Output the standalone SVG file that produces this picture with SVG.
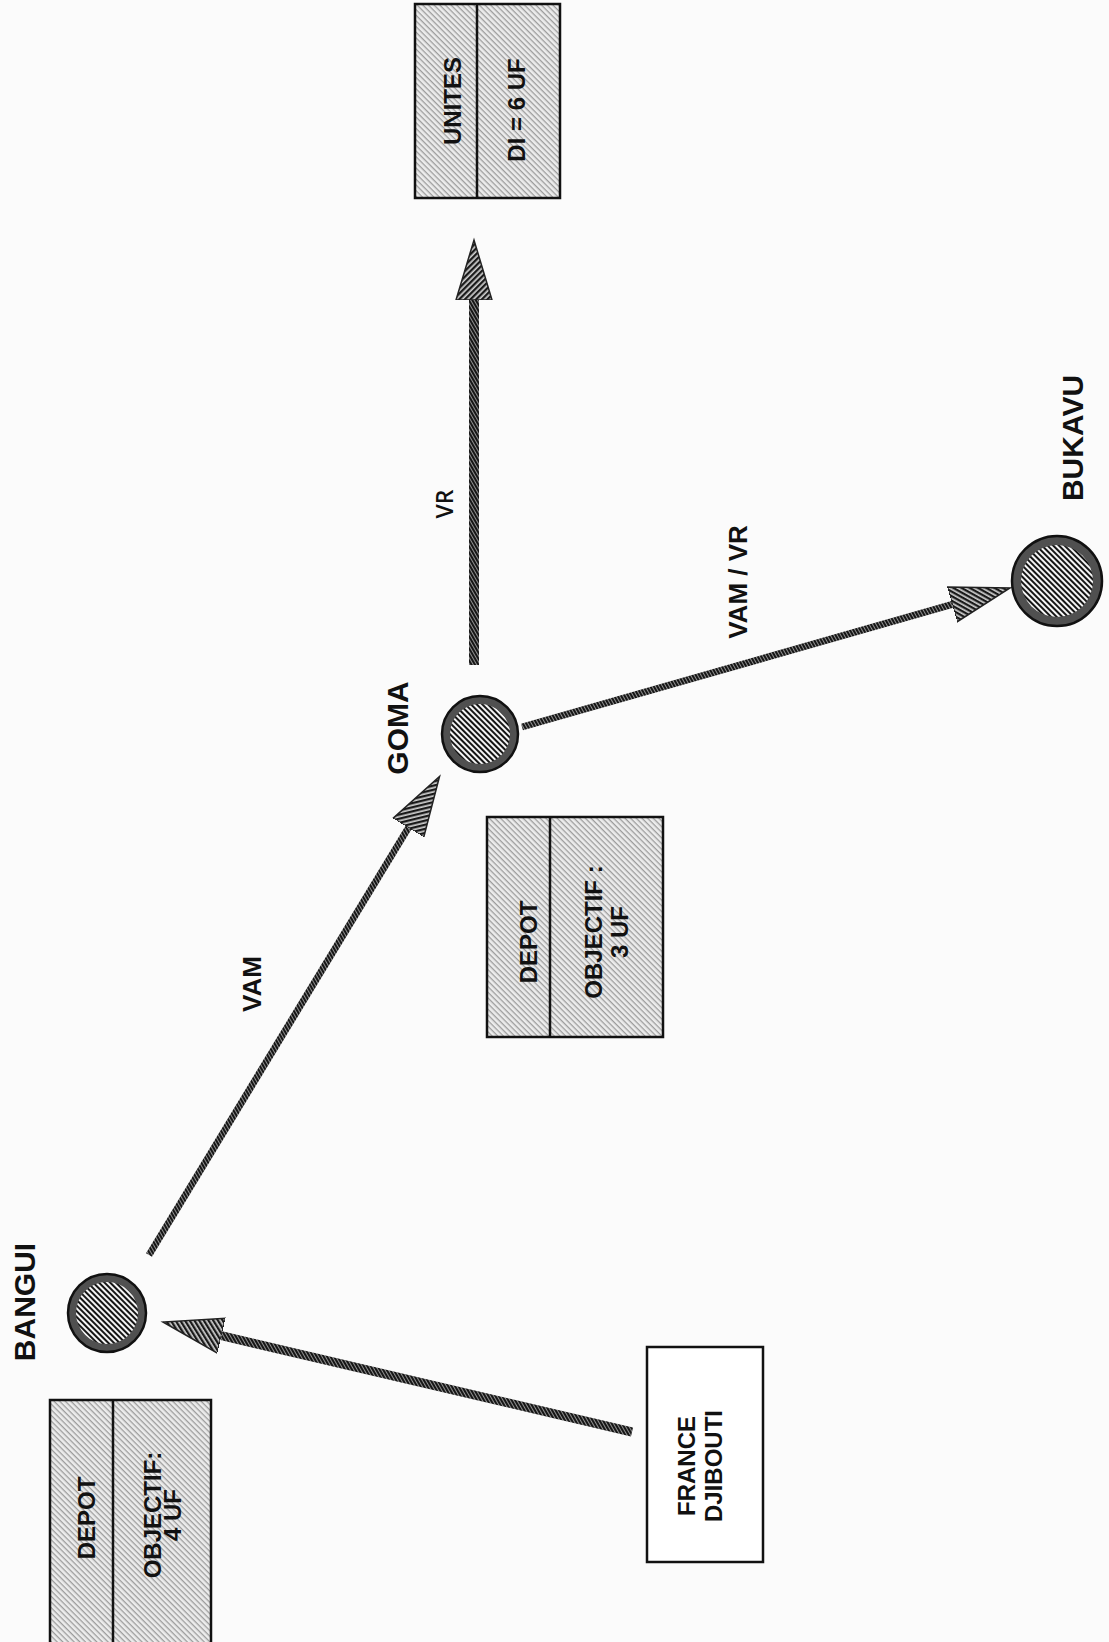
<svg xmlns="http://www.w3.org/2000/svg" width="1109" height="1642" viewBox="0 0 1109 1642">
<defs>
<pattern id="boxHatch" width="4" height="4" patternUnits="userSpaceOnUse" patternTransform="rotate(45)">
<rect width="4" height="4" fill="#ececec"/><rect width="4" height="1.3" fill="#9c9c9c"/>
</pattern>
<pattern id="discHatch" width="4" height="4" patternUnits="userSpaceOnUse" patternTransform="rotate(45)">
<rect width="4" height="4" fill="#f4f4f4"/><rect width="4" height="2" fill="#151515"/>
</pattern>
<pattern id="lineHatch" width="3" height="3" patternUnits="userSpaceOnUse" patternTransform="rotate(60)">
<rect width="3" height="3" fill="#161616"/><rect width="3" height="0.8" fill="#b0b0b0"/>
</pattern>
<pattern id="headHatch" width="4" height="4" patternUnits="userSpaceOnUse" patternTransform="rotate(45)">
<rect width="4" height="4" fill="#cfcfcf"/><rect width="4" height="2.3" fill="#1a1a1a"/>
</pattern>
<marker id="head" markerUnits="userSpaceOnUse" markerWidth="64" markerHeight="42" viewBox="0 -21 64 42" refX="0" refY="0" orient="auto">
<path d="M0,-18 L60,0 L0,18 Z" fill="url(#headHatch)" stroke="#222" stroke-width="1.5"/>
</marker>
<style>
text{font-family:"Liberation Sans",Arial,sans-serif;font-weight:bold;fill:#111;text-anchor:middle}
.city{font-size:30px}
.bx{font-size:24px}
.lbl{font-size:26px}
.lt{font-family:"Open Sans","Liberation Sans",sans-serif;font-size:23px;font-weight:600}
.box{fill:url(#boxHatch);stroke:#111;stroke-width:2.5}
.wbox{fill:#fff;stroke:#111;stroke-width:2.5}
.div{stroke:#111;stroke-width:2.5}
.ring{fill:#505050;stroke:#111;stroke-width:2.5}
.disc{fill:url(#discHatch)}
.conn{fill:none;stroke:url(#lineHatch);stroke-linecap:butt;marker-end:url(#head)}
</style>
</defs>
<rect width="1109" height="1642" fill="#fbfbfb"/>

<g id="connectors">
<path class="conn" d="M632,1432 L221.4,1335.7" stroke-width="9"/>
<path class="conn" d="M149,1255 L408.4,827.7" stroke-width="7"/>
<path class="conn" d="M522,727 L952.3,604.4" stroke-width="7"/>
<path class="conn" d="M474,665 L474,300" stroke-width="10"/>
<text class="lbl" transform="translate(252,984) rotate(-90)" y="9">VAM</text>
<text class="lt" transform="translate(445,504) rotate(-90)" y="8">VR</text>
<text class="lbl" transform="translate(737,582) rotate(-90)" y="9.5">VAM / VR</text>
</g>

<g id="unites">
<rect class="box" x="415" y="4" width="145" height="194"/>
<line class="div" x1="477" y1="4" x2="477" y2="198"/>
<text class="bx" transform="translate(452,101) rotate(-90)" y="8.5">UNITES</text>
<text class="bx" transform="translate(516,110) rotate(-90)" y="8.5">DI = 6 UF</text>
</g>

<g id="goma">
<circle class="ring" cx="480" cy="734" r="38"/>
<circle class="disc" cx="480" cy="734" r="30"/>
<text class="city" transform="translate(397,728) rotate(-90)" y="10.5">GOMA</text>
</g>

<g id="goma-depot">
<rect class="box" x="487" y="817" width="176" height="220"/>
<line class="div" x1="550" y1="817" x2="550" y2="1037"/>
<text class="bx" transform="translate(528,942) rotate(-90)" y="8.5">DEPOT</text>
<text class="bx" transform="translate(606,932) rotate(-90)"><tspan x="0" y="-4.5">OBJECTIF :</tspan><tspan x="0" y="22">3 UF</tspan></text>
</g>

<g id="bukavu">
<circle class="ring" cx="1057" cy="581" r="45"/>
<circle class="disc" cx="1057" cy="581" r="36"/>
<text class="city" transform="translate(1072,438) rotate(-90)" y="10.5">BUKAVU</text>
</g>

<g id="bangui">
<circle class="ring" cx="107" cy="1313" r="39"/>
<circle class="disc" cx="107" cy="1313" r="31"/>
<text class="city" transform="translate(24,1302) rotate(-90)" y="10.5">BANGUI</text>
</g>

<g id="bangui-depot">
<rect class="box" x="50" y="1400" width="161" height="260"/>
<line class="div" x1="113" y1="1400" x2="113" y2="1660"/>
<text class="bx" transform="translate(86,1518) rotate(-90)" y="8.5">DEPOT</text>
<text class="bx" transform="translate(162,1515) rotate(-90)"><tspan x="0" y="-1.5">OBJECTIF:</tspan><tspan x="0" y="18.5">4 UF</tspan></text>
</g>

<g id="france-djibouti">
<rect class="wbox" x="647" y="1347" width="116" height="215"/>
<text class="bx" transform="translate(700,1466) rotate(-90)"><tspan x="0" y="-5">FRANCE</tspan><tspan x="0" y="22">DJIBOUTI</tspan></text>
</g>
</svg>
